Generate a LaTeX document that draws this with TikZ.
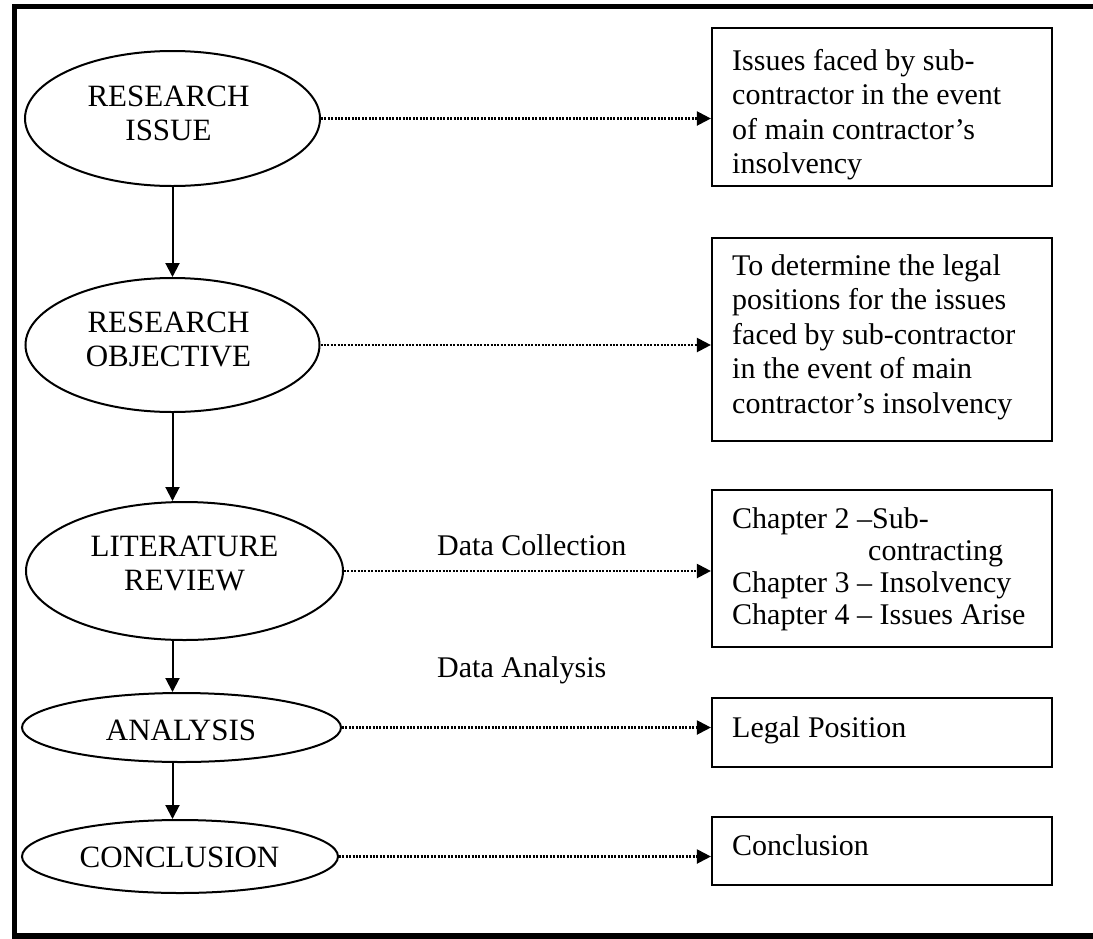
\documentclass[tikz,border=0pt]{standalone}
\usepackage{fontspec}
\setmainfont{Liberation Serif}
\usetikzlibrary{arrows.meta,shapes.geometric}
\begin{document}
\begin{tikzpicture}[x=1pt,y=-1pt,
  ell/.style={ellipse, draw, line width=2pt, inner sep=0pt},
  boxnode/.style={rectangle, draw, line width=2.2pt, inner sep=0pt, minimum width=340pt},
  txt/.style={inner sep=0pt, font=\fontsize{30}{34.5}\selectfont},
  txtb/.style={inner sep=0pt, font=\fontsize{30}{32}\selectfont},
  etxt/.style={inner sep=0pt, font=\fontsize{31}{34}\selectfont},
  flow/.style={line width=2pt, -{Triangle[length=14pt,width=14pt]}},
  dots/.style={line width=2.2pt, dash pattern=on 2pt off 1.4pt, -{Triangle[length=14pt,width=14pt]}},
  frame/.style={line width=5.5pt, line join=miter}]
\fill[white] (0,0) rectangle (1093,938);
\useasboundingbox (0,0) rectangle (1093,938);
\draw[frame] (1093,6.5) -- (14.5,6.5) -- (14.5,936) -- (1093,936);

% ellipses
\node[ell, minimum width=295pt, minimum height=135pt] (issue) at (172.5,118.5) {};
\node[ell, minimum width=294pt, minimum height=134pt] (obj) at (172.5,345) {};
\node[ell, minimum width=317pt, minimum height=138pt] (lit) at (184.5,571) {};
\node[ell, minimum width=319pt, minimum height=69pt] (ana) at (181.5,727.5) {};
\node[ell, minimum width=316pt, minimum height=73pt] (con) at (180,856.5) {};

\node[etxt, anchor=base] (issuet) at (168.5,106) {\begin{tabular}[t]{@{}c@{}}RESEARCH\\ISSUE\end{tabular}};
\node[etxt, anchor=base] (objt) at (168.5,332.5) {\begin{tabular}[t]{@{}c@{}}RESEARCH\\OBJECTIVE\end{tabular}};
\node[etxt, anchor=base] (litt) at (184.5,556) {\begin{tabular}[t]{@{}c@{}}LITERATURE\\REVIEW\end{tabular}};
\node[etxt, anchor=base] (anat) at (181,740) {ANALYSIS};
\node[etxt, anchor=base] (cont) at (179.5,867) {CONCLUSION};

% boxes
\node[boxnode, minimum height=158pt] (b1) at (882,107) {};
\node[boxnode, minimum height=203pt] (b2) at (882,339.5) {};
\node[boxnode, minimum height=157pt] (b3) at (882,568.5) {};
\node[boxnode, minimum height=69pt] (b4) at (882,732.5) {};
\node[boxnode, minimum height=68pt] (b5) at (882,851) {};

\node[txt, anchor=base west] (b1t) at (732,70) {\begin{tabular}[t]{@{}l@{}}Issues faced by sub-\\contractor in the event\\of main contractor’s\\insolvency\end{tabular}};
\node[txt, anchor=base west] (b2t) at (732,275) {\begin{tabular}[t]{@{}l@{}}To determine the legal\\positions for the issues\\faced by sub-contractor\\in the event of main\\contractor’s insolvency\end{tabular}};
\node[txtb, anchor=base west] (b3t) at (732,528) {\begin{tabular}[t]{@{}l@{}}Chapter 2 –Sub-\\\hspace*{136pt}contracting\\Chapter 3 – Insolvency\\Chapter 4 – Issues Arise\end{tabular}};
\node[txt, anchor=base west] (b4t) at (732,737) {Legal Position};
\node[txt, anchor=base west] (b5t) at (732,855) {Conclusion};

% labels
\node[txt, anchor=base west] (dc) at (437,555) {Data Collection};
\node[txt, anchor=base west] (da) at (437,677) {Data Analysis};

% vertical flow
\draw[flow] (issue.south) -- (issue.south |- obj.north);
\draw[flow] (obj.south) -- (obj.south |- lit.north);
\draw[flow] (lit.south -| obj.south) -- (ana.north -| obj.south);
\draw[flow] (ana.south -| obj.south) -- (con.north -| obj.south);

% dotted arrows
\draw[dots] (issue.east) -- (issue.east -| b1.west);
\draw[dots] (obj.east) -- (obj.east -| b2.west);
\draw[dots] (lit.east) -- (lit.east -| b3.west);
\draw[dots] (ana.east) -- (ana.east -| b4.west);
\draw[dots] (con.east) -- (con.east -| b5.west);
\end{tikzpicture}
\end{document}
